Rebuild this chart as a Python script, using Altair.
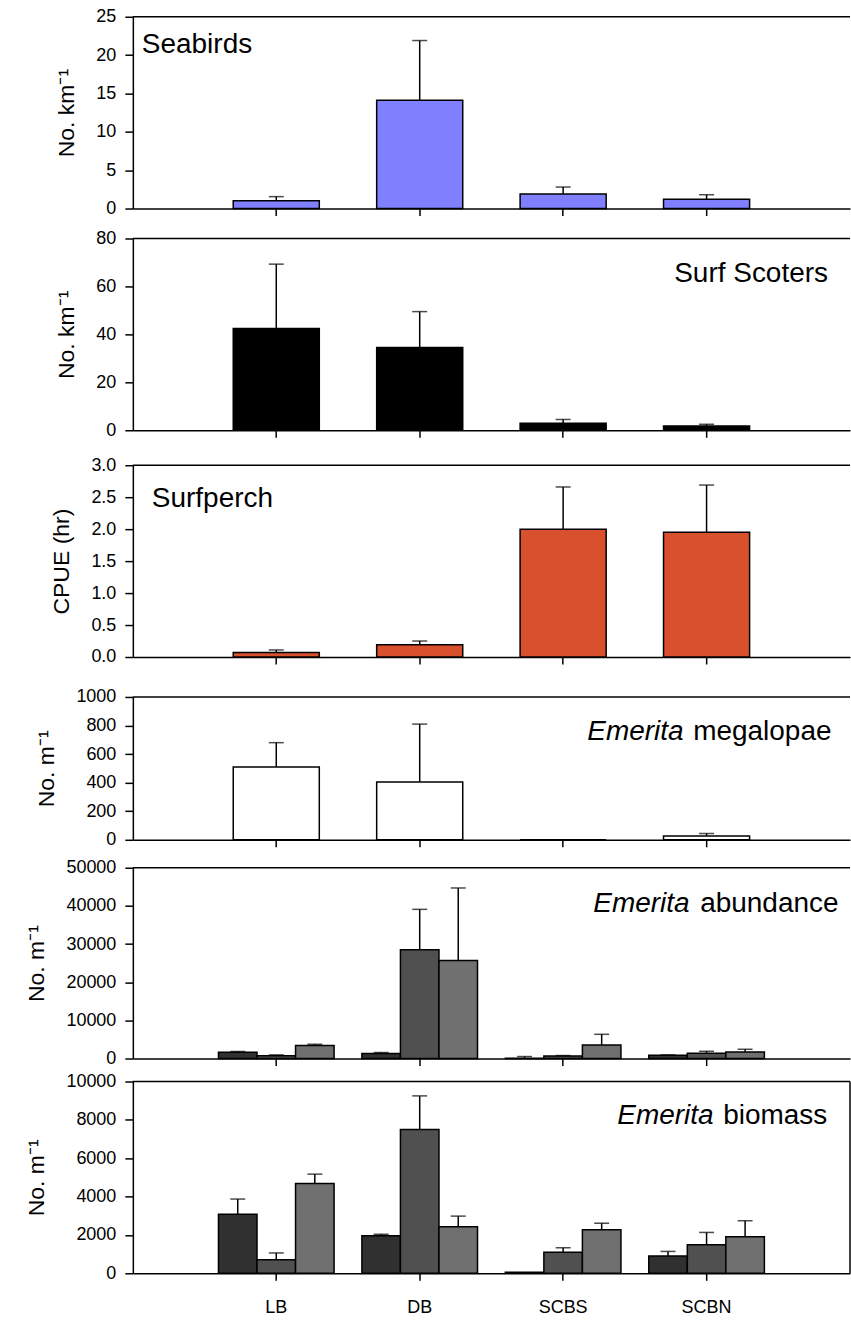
import altair as alt
import pandas as pd

sites = ["LB", "DB", "SCBS", "SCBN"]
series = ["Series 1", "Series 2", "Series 3"]
series_colors = ["#303030", "#505050", "#707070"]

# Seabirds (No. km-1)
seabirds_mean = [1.0, 14.1, 1.9, 1.2]
seabirds_err = [0.55, 7.8, 0.9, 0.6]
seabirds_ticks = [0, 5, 10, 15, 20, 25]

# Surf Scoters (No. km-1)
scoters_mean = [42.5, 34.5, 2.9, 1.8]
scoters_err = [26.8, 15.0, 1.6, 0.7]
scoters_ticks = [0, 20, 40, 60, 80]

# Surfperch CPUE (hr)
surfperch_mean = [0.07, 0.19, 2.0, 1.95]
surfperch_err = [0.04, 0.06, 0.66, 0.74]
surfperch_ticks = [0.0, 0.5, 1.0, 1.5, 2.0, 2.5, 3.0]

# Emerita megalopae (No. m-1)
megalopae_mean = [510, 405, 0, 26]
megalopae_err = [170, 405, 0, 18]
megalopae_ticks = [0, 200, 400, 600, 800, 1000]

# Emerita abundance (No. m-1), three series
abund_s1_mean = [1650, 1300, 100, 860]
abund_s1_err = [200, 270, 420, 90]
abund_s2_mean = [700, 28500, 680, 1380]
abund_s2_err = [260, 10600, 100, 520]
abund_s3_mean = [3400, 25700, 3560, 1730]
abund_s3_err = [340, 19000, 2790, 700]
abund_ticks = [0, 10000, 20000, 30000, 40000, 50000]

# Emerita biomass (No. m-1), three series
biomass_s1_mean = [3080, 1960, 50, 900]
biomass_s1_err = [790, 70, 0, 240]
biomass_s2_mean = [710, 7500, 1100, 1490]
biomass_s2_err = [350, 1750, 230, 640]
biomass_s3_mean = [4680, 2420, 2270, 1910]
biomass_s3_err = [490, 560, 340, 830]
biomass_ticks = [0, 2000, 4000, 6000, 8000, 10000]

FONT = "Liberation Sans"
W = 718


def single_df(mean, err):
    return pd.DataFrame({"site": sites, "mean": mean, "err": err,
                         "top": [m + e for m, e in zip(mean, err)]})


def grouped_df(means, errs):
    rows = []
    for s, ml, el in zip(series, means, errs):
        for site, m, e in zip(sites, ml, el):
            rows.append({"site": site, "series": s, "mean": m, "err": e, "top": m + e})
    return pd.DataFrame(rows)


def panel(df, height, ticks, ytitle, fmt, labels, color=None, grouped=False,
          bottom=False):
    if grouped:
        xscale = alt.Scale(domain=sites, paddingInner=0.194, paddingOuter=0.597)
    else:
        xscale = alt.Scale(domain=sites, paddingInner=0.4, paddingOuter=0.7)
    xaxis = alt.Axis(labels=bottom, title=None, ticks=True, tickSize=7,
                     labelPadding=18, labelAngle=0, labelFontSize=18)
    x = alt.X("site:N", scale=xscale, axis=xaxis, sort=sites)
    yscale = alt.Scale(domain=[ticks[0], ticks[-1]], nice=False)
    yaxis = alt.Axis(values=ticks, format=fmt, title=ytitle, labelOverlap=False,
                     labelFlush=False)

    base = alt.Chart(df)
    enc = dict(x=x)
    if grouped:
        enc["xOffset"] = alt.XOffset("series:N", sort=series,
                                     scale=alt.Scale(domain=series, paddingInner=0, paddingOuter=0))
    bar_enc = dict(enc)
    if grouped:
        bar_enc["color"] = alt.Color("series:N", scale=alt.Scale(domain=series, range=series_colors),
                                     legend=None)
    else:
        bar_enc["color"] = alt.value(color)
    bars = base.mark_bar(stroke="black", strokeWidth=1.5, opacity=1).encode(
        y=alt.Y("mean:Q", scale=yscale, axis=yaxis), **bar_enc)
    errs = base.transform_filter("datum.err > 0")
    rules = errs.mark_rule(color="black", strokeWidth=1.5).encode(
        y=alt.Y("mean:Q", scale=yscale, axis=yaxis), y2="top:Q", **enc)
    caps = errs.mark_tick(color="black", thickness=1.5, size=15, orient="horizontal").encode(
        y=alt.Y("top:Q", scale=yscale, axis=yaxis), **enc)

    layers = [rules, caps, bars]
    for text, lx, ly, italic in labels:
        t = alt.Chart(pd.DataFrame({"t": [text]})).mark_text(
            font=FONT, fontSize=28, align="left", baseline="alphabetic",
            fontStyle="italic" if italic else "normal", color="black"
        ).encode(text="t:N", x=alt.value(lx), y=alt.value(ly))
        layers.append(t)
    frame_df = pd.DataFrame({"k": [0]})
    top_line = alt.Chart(frame_df).mark_rule(color="black", strokeWidth=1.5).encode(
        x=alt.value(0), x2=alt.value(W), y=alt.value(0))
    layers.append(top_line)
    if bottom:
        right_line = alt.Chart(frame_df).mark_rule(color="black", strokeWidth=1.5).encode(
            x=alt.value(W), y=alt.value(0), y2=alt.value(height))
        layers.append(right_line)
    return alt.layer(*layers).properties(width=W, height=height)


p1 = panel(single_df(seabirds_mean, seabirds_err), 192, seabirds_ticks, "No. km\u207b\u00b9", "d",
           [("Seabirds", 9, 36, False)], color="#8080FF")
p2 = panel(single_df(scoters_mean, scoters_err), 192, scoters_ticks, "No. km\u207b\u00b9", "d",
           [("Surf Scoters", 542, 44, False)], color="#000000")
p3 = panel(single_df(surfperch_mean, surfperch_err), 192, surfperch_ticks, "CPUE (hr)", ".1f",
           [("Surfperch", 19, 42, False)], color="#D9512C")
p4 = panel(single_df(megalopae_mean, megalopae_err), 143, megalopae_ticks, "No. m\u207b\u00b9", "d",
           [("Emerita", 455, 43, True), ("megalopae", 561, 43, False)], color="#FFFFFF")
p5 = panel(grouped_df([abund_s1_mean, abund_s2_mean, abund_s3_mean],
                      [abund_s1_err, abund_s2_err, abund_s3_err]),
           191, abund_ticks, "No. m\u207b\u00b9", "d",
           [("Emerita", 461, 44, True), ("abundance", 568, 44, False)], grouped=True)
p6 = panel(grouped_df([biomass_s1_mean, biomass_s2_mean, biomass_s3_mean],
                      [biomass_s1_err, biomass_s2_err, biomass_s3_err]),
           192, biomass_ticks, "No. m\u207b\u00b9", "d",
           [("Emerita", 485, 43, True), ("biomass", 591, 43, False)], grouped=True, bottom=True)

inner5 = alt.vconcat(p5, p6, spacing=23, bounds="flush")
inner4 = alt.vconcat(p4, inner5, spacing=28, bounds="flush")
inner3 = alt.vconcat(p3, inner4, spacing=40, bounds="flush")
inner2 = alt.vconcat(p2, inner3, spacing=35, bounds="flush")
chart = alt.vconcat(p1, inner2, spacing=30, bounds="flush").properties(
    padding={"left": 25, "top": 7, "right": 0, "bottom": 0}
).configure_view(stroke=None).configure_axis(
    domainColor="black", domainWidth=1.5, tickColor="black", tickWidth=1.5, tickSize=8,
    labelFont=FONT, labelFontSize=18, labelColor="black", labelPadding=9,
    titleFont=FONT, titleFontSize=23, titleFontWeight="normal", titleColor="black",
    titlePadding=17, grid=False
)

chart.save("out.html", embed_options={"renderer": "svg", "actions": False})
